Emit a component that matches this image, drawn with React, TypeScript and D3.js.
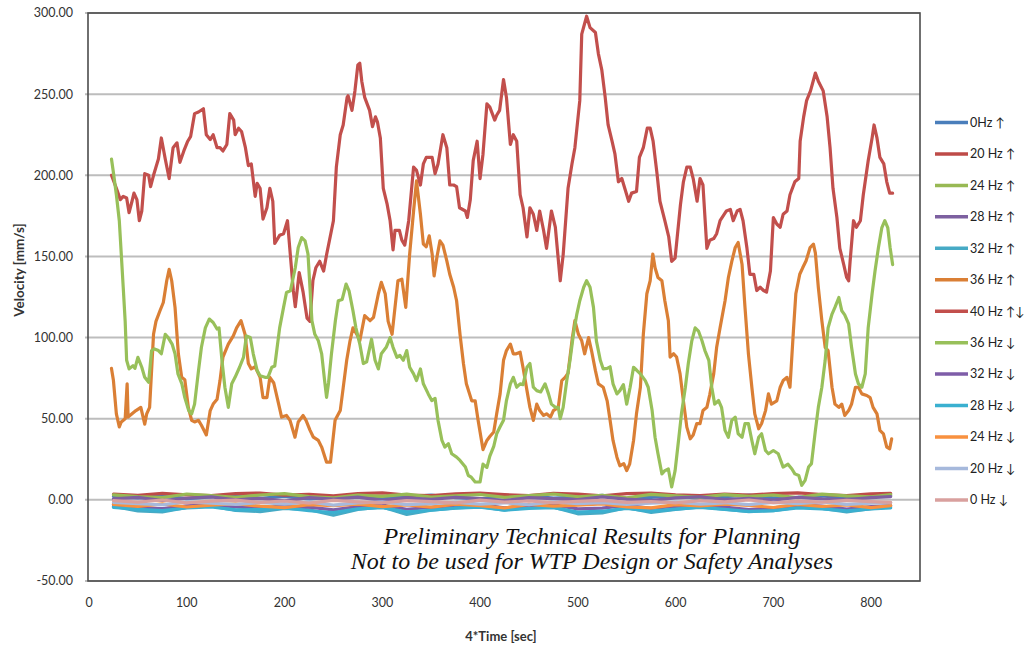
import React from "react";
import * as d3 from "d3";

// ---- data -----------------------------------------------------------------
type Pt = [number, number];

// 40 Hz up/down
const hz40Both: Pt[] = [[23,200],[28,192],[32,185],[35,187],[38.5,186],[41,177],[44,184],[46,189],[49,185],[51.5,172],[54,178],[57,201],[61,200],[63,193],[66,200],[71,210],[74,223],[78,210],[82,198],[86,217],[90,220],[93,208],[97,215],[101,221],[104,224],[108,238],[112,239],[117,241],[120,225],[124,222],[127,225],[131,217],[134,217],[137,215],[141,219],[144,238],[148,234],[149.5,225],[153,229],[156,227],[160,217],[163,206],[166,207],[170,187],[172,195],[175,192],[178,173],[182,180],[185,192],[188,184],[190,158],[195,163],[199,164],[203,172],[209,129],[211,119],[215,140],[219,128],[223,112],[226,110],[229,135],[232,143],[236,147],[240,141],[243,151],[250,172],[253,205],[257,225],[260,231],[264,248],[265,249],[269,240],[272,252],[275,268],[277,269],[279,258],[282,248],[287,240],[290,230],[293,236],[295,233],[298,223],[301,192],[305,182],[308,172],[311,154],[313,166],[317.5,166],[320,160],[323,157],[327,172],[332,205],[335,203],[339,194],[342,207],[345,211],[351,211],[354,201],[357,207],[362,225],[366,217],[369,194],[373,194],[376,193],[379,180],[385,178],[387,174],[390,185],[393,209],[397,221],[400,198],[403,213],[407,244],[410,242],[415,234],[417,237],[420,240],[424,259],[427,248],[431,219],[434,225],[437.5,221],[441,188],[444,180],[448,162],[451,180],[454.5,176],[458,166],[461,178],[465,166],[468,155],[473,178],[477,168],[482,135],[485,151],[490,192],[494,207],[497,217],[502,246],[504,287],[509,298],[512.5,291],[518,288],[521,275],[524.5,265],[528,248],[531,231],[535,221],[538,213],[541.5,196],[545,198],[548,192],[552,184],[555,189],[560,190],[563,211],[567,217],[571,229],[574,229],[577,221],[581,201],[584,184],[589,172],[593,162],[596,147],[599.5,149],[605,182],[608,196],[611.5,205],[615,205],[618,198],[622,184],[625,198],[628,194],[632,155],[635,160],[639,161],[642,164],[645.5,172],[652,178],[656,179],[659,172],[663,178],[666,179],[669,172],[673,155],[676,139],[680,139],[683,129],[686.5,131],[690,129],[693,128],[697,141],[700,174],[703.5,170],[707,168],[710,176],[714,178],[717,188],[722,196],[726,198],[727.4,221],[731,236],[734,246],[738,252],[743,263],[746,258],[751,252],[755,236],[758,217],[761,192],[765,174],[768,155],[772,145],[775,137],[777,135],[778.5,147],[782,172],[785,168],[789,172],[792,188],[797,209],[801,223],[803,231],[806,223],[809,211],[813,207],[816,196],[819,189],[822,189]];

// 36 Hz up
const hz36Up: Pt[] = [[23,81],[25,73.5],[28,53],[31,45],[33,48],[37,50],[39,71.5],[40,51],[44,53],[48,55],[53,57],[57,46.6],[59,53],[62,57],[66,102],[68.5,110],[72.6,116.5],[76,121.6],[79.5,135],[82,142],[84.6,135],[88,118.6],[91.4,90],[94.8,75.5],[98,74],[101.6,57],[105,49],[108,48],[112,49],[115,46],[120,40],[124,55],[127,59],[131,62],[134,73.5],[137,88],[142.5,96],[147.6,101],[151,106],[155.5,110.4],[159.6,102],[163,84],[166,80.7],[170,82],[175,75.5],[178,63],[182,63],[185,75.5],[189,72],[194,59],[197,51],[202,52],[205.6,49],[210.7,38.6],[214,48],[219,52],[222,49],[226,43],[229.5,38.6],[234.6,36.6],[238,32.5],[243,23.2],[247,23.2],[251.7,49],[257,55],[260,69],[263.6,86],[267,98],[270,106],[274,102],[277,98],[282,113.5],[287.5,110.4],[291,112.4],[296,127],[299,134],[303,127],[306,110],[310,102],[313,118.6],[316,135],[320,136],[324,118.6],[328,151.5],[332,178],[335,196.5],[339,176],[342,157.6],[345,156],[348,162.7],[351,151.5],[353,138],[356,150],[359,159.6],[362,157],[366,147.3],[369,139],[373,131],[376,122.7],[379.5,102],[383,84],[386,71.5],[391.5,61],[395,61],[398,49],[403,31],[407,36.6],[410,39],[414,41.8],[417,53],[420.5,65.3],[424,86],[427,92],[431,96],[434,90],[437,90],[441,91],[444,81.4],[448,67.3],[451,57],[454.5,49],[458,59],[461,55],[465,52],[468,53],[472,51],[475,55],[480,57],[483.6,73.5],[487,75.5],[490,78],[494,98],[497,110.4],[500.6,102],[504,98],[507,90],[511,100],[514,92],[518,79.6],[521,71.5],[526,69.4],[530,61],[533,49],[536,36.6],[540,26.3],[543,21],[547,22.3],[550,18],[553,22],[557,36.6],[560,53],[564,69.4],[567,102],[570.6,127],[574,135],[576.7,151.5],[579,143],[582,137],[586,135],[589,122.7],[592.6,110.4],[594.4,88],[598,90],[601,88],[604.6,77.6],[608,61],[611.5,44.8],[615,37.6],[618,40],[621.7,47],[625,47],[628,55],[632,57],[635,65],[639,77.6],[642,94],[645.5,106],[650.6,122.7],[654,137],[657.5,147],[661,155.5],[664,158.6],[668,145],[671,118.6],[674.5,90],[678,69.4],[681,53],[685,43.8],[688,47],[692,55],[695,65.3],[698,59],[703.5,61],[707,69.4],[710,73.5],[714,75.5],[717,69.4],[720.5,104],[723,127],[727,139],[730,143],[733.5,147.3],[737.6,155.5],[741,157.6],[743,152],[746,131],[749.6,110.4],[753,94],[756,92],[760,69.4],[763,59],[767,57],[770,59],[773,52],[777,55],[780,59],[784,69.4],[787,69.4],[790.5,65.3],[795.6,64.3],[799,63],[802,57],[806,53],[809,42.8],[812.6,40.7],[816,32.5],[819,31.5],[821,37.6]];

// 36 Hz down
const hz36Down: Pt[] = [[23,210],[25,201.6],[28,188],[31,172],[33,151.5],[35,131],[37,110],[38.5,86],[41,80.7],[45,82.7],[47,81],[50,87.8],[54,81.7],[57,75.5],[61,72.5],[64,92],[67,93],[71,92],[74,90],[78,102],[81,100],[85,96],[88,90],[91,77.6],[95,71.5],[98,63],[102,55],[105,53],[108,59],[112,79.6],[115,94],[119,106],[123,111.4],[127,109.3],[131,105.3],[133,106],[136,86],[139,69.4],[142.5,57],[146,71.5],[149.4,75.5],[154,81.7],[158,87.8],[161,101],[165,100],[168,90],[172,79.6],[175,76.5],[180,75.5],[183,75.5],[187,81.7],[190,82.5],[195,106],[199,118.6],[202,127.8],[206,128.8],[211,143],[214,155.5],[217.6,161.6],[221,159.6],[224,151.5],[228,110.4],[231,102],[234.6,98],[238,90],[241,73.5],[243,63.2],[245,72],[248,90],[252,110.4],[255,122.7],[259,123.5],[263,133],[266,128.8],[270,116.5],[273,106],[277,96],[280.6,84],[284,85],[289,99],[292.6,86],[296,80.7],[299,90],[304,94],[308,100],[311,94],[315,87.8],[318,89],[321.5,86],[325,92],[328,81.7],[332,77.6],[335,73.5],[339,80.7],[342,71.5],[347,65.3],[350.6,61.2],[354,62.5],[357,49],[361,36.6],[364,32.5],[367.6,34.6],[371,28.4],[376,26.3],[379.5,24.3],[385,20.2],[388,15],[391,14],[395,11],[400,11],[403,22],[407,20],[410,27],[414,33],[417,40.7],[420.5,45],[424,49],[427,61.2],[431,71.5],[434,75.5],[437.5,69.4],[441,71.5],[444,71],[448,81.7],[451,84],[454.5,69.4],[458,67.3],[462,66.5],[466.5,71.5],[470,65.3],[473,59],[477,57],[480,57],[482,50],[485,57],[488.7,73.5],[492,86],[495.5,102],[499,114.5],[502,122.7],[506,131],[509,135],[512.5,131],[516,118.6],[519,98],[523,86],[526,80.7],[530,81],[533,82],[536,71.5],[540,65.3],[543,67.3],[546.6,71],[550,59],[553.5,69.4],[557,81.7],[560,80],[564,77.6],[569,73.5],[572,69.4],[576,55],[579,38.6],[582,28.4],[586,16],[589,18],[592.6,19],[596,8],[599.5,18],[603,36.6],[606,53],[610,69.4],[613,84],[616.6,98],[620,106],[623.4,104],[627,98],[630,92],[634,86],[637,69.4],[640,59],[644,61.2],[647,57],[650.6,42.8],[654,38.6],[657.5,49],[661,51],[664,40.7],[668,38.6],[671,47],[674.5,47],[678,36.6],[681,28.4],[685,38.6],[688,40.7],[692,30.4],[695,28.4],[700,30.4],[705,28.4],[710,20.2],[715,22],[719,19],[722,16],[726,15],[729,9],[732.5,12],[736,20.2],[739,22.3],[743,42.8],[746,57],[749.6,69.4],[753,86],[756,106],[760,114.5],[763,118.6],[767,124.7],[770,116.5],[773,114],[777,108.4],[780,94],[784,77.6],[787,71.5],[790.5,69.4],[794,77.6],[797,106],[801,127],[804,141],[807.5,155.5],[811,167.8],[814,172],[817,167.8],[819.4,155.5],[822,145]];

// sample times shared by the low-velocity runs
const bandTimes: number[] = [25,50,75,100,125,150,175,200,225,250,275,300,325,350,375,400,425,450,475,500,525,550,575,600,625,650,675,700,725,750,775,800,820];

const hz0Up: number[] = [2.1,1.2,2.5,0.8,1.8,2.9,1.0,2.2,0.6,1.6,2.7,0.9,1.9,3.0,1.3,0.7,2.1,2.4,1.1,1.7,2.8,0.9,1.5,2.6,0.7,1.9,2.9,1.2,1.6,2.4,1.0,2.1,2.6];
const hz20Up: number[] = [3.6,2.8,4.0,3.1,2.6,3.8,4.2,2.9,3.4,2.5,3.9,4.3,3.0,2.7,3.7,4.1,3.2,2.6,4.0,3.5,2.5,3.8,4.2,3.1,2.7,3.6,2.9,3.9,4.3,3.3,2.6,3.7,4.0];
const hz24Up: number[] = [3.1,2.0,1.4,3.6,2.7,1.6,3.0,3.8,2.0,1.3,2.9,2.2,3.5,1.7,2.5,3.3,1.5,2.6,3.6,1.9,2.8,1.3,3.4,2.4,1.6,3.2,2.1,3.0,1.4,3.5,2.5,1.9,3.3];
const hz28Up: number[] = [0.6,1.5,-0.4,1.0,1.8,0.0,0.9,-0.6,1.4,0.5,1.7,-0.3,1.2,0.3,1.6,0.7,-0.5,1.4,0.8,0.1,1.8,0.5,-0.4,1.2,1.9,0.2,1.0,-0.2,1.6,0.6,0.1,1.4,2.0];
const hz32Up: number[] = [-4.0,-6.8,-7.4,-4.6,-3.8,-6.5,-7.2,-5.2,-6.1,-9.4,-5.9,-4.4,-9.0,-6.4,-4.9,-4.2,-6.3,-4.7,-4.5,-8.6,-8.0,-4.8,-7.7,-5.9,-4.3,-5.7,-7.3,-6.6,-4.5,-5.2,-7.4,-5.4,-4.4];
const hz32Down: number[] = [-3.0,-4.8,-5.4,-3.7,-2.8,-4.3,-5.3,-3.5,-4.5,-6.2,-4.1,-3.2,-5.8,-4.6,-3.3,-2.9,-4.9,-3.6,-3.1,-5.6,-5.1,-3.4,-5.2,-4.1,-3.0,-4.4,-6.0,-4.9,-3.2,-3.9,-5.7,-4.1,-3.5];
const hz28Down: number[] = [-4.6,-5.8,-6.6,-5.0,-4.4,-6.2,-5.9,-4.9,-6.7,-7.8,-5.6,-4.8,-7.4,-6.4,-5.1,-4.5,-6.3,-5.3,-4.8,-7.5,-7.0,-5.2,-6.9,-5.7,-4.6,-5.9,-7.1,-6.6,-4.9,-5.5,-6.8,-5.6,-5.0];
const hz24Down: number[] = [-2.8,-4.0,-2.5,-4.4,-3.3,-2.4,-3.9,-4.8,-2.9,-3.6,-2.6,-4.2,-3.1,-4.5,-2.7,-3.5,-5.0,-2.8,-3.9,-3.3,-2.5,-4.4,-4.9,-2.9,-3.8,-2.6,-3.4,-4.7,-2.8,-4.1,-3.1,-4.8,-3.6];
const hz20Down: number[] = [-1.5,-2.4,-3.0,-1.2,-2.1,-2.8,-1.6,-2.6,-1.3,-3.2,-1.9,-1.2,-2.9,-2.3,-1.5,-2.6,-1.8,-3.0,-1.2,-2.4,-1.7,-2.8,-2.1,-1.4,-2.6,-1.8,-2.9,-1.5,-2.3,-1.2,-2.8,-2.0,-1.7];
const hz0Down: number[] = [-0.5,-1.4,-0.1,-1.9,-0.8,-0.2,-1.6,-0.7,-2.0,-0.3,-1.2,-1.8,-0.5,-1.1,-1.9,-0.2,-1.4,-0.7,-1.7,-0.9,-0.3,-1.6,-1.0,-1.9,-0.5,-1.3,-0.1,-1.8,-0.8,-1.4,-0.3,-1.1,-1.6];

const yTicks: number[] = [-50, 0, 50, 100, 150, 200, 250, 300];
const xTicks: number[] = [0, 100, 200, 300, 400, 500, 600, 700, 800];

const zip = (vals: number[]): Pt[] => vals.map((v, i) => [bandTimes[i], v]);

interface Series { name: string; color: string; points: Pt[]; }

const series: Series[] = [
  { name: "0Hz \u2191", color: "#4A7EBB", points: zip(hz0Up) },
  { name: "20 Hz \u2191", color: "#BE4B48", points: zip(hz20Up) },
  { name: "24 Hz \u2191", color: "#98B954", points: zip(hz24Up) },
  { name: "28 Hz \u2191", color: "#7D60A0", points: zip(hz28Up) },
  { name: "32 Hz \u2191", color: "#46AAC5", points: zip(hz32Up) },
  { name: "36 Hz \u2191", color: "#DA7F35", points: hz36Up },
  { name: "40 Hz \u2191\u2193", color: "#C24F4C", points: hz40Both },
  { name: "36 Hz \u2193", color: "#98C05A", points: hz36Down },
  { name: "32 Hz \u2193", color: "#7E5DA8", points: zip(hz32Down) },
  { name: "28 Hz \u2193", color: "#3AB0D0", points: zip(hz28Down) },
  { name: "24 Hz \u2193", color: "#F8913F", points: zip(hz24Down) },
  { name: "20 Hz \u2193", color: "#A6B9DC", points: zip(hz20Down) },
  { name: "0 Hz \u2193", color: "#D9A09E", points: zip(hz0Down) },
];

// ---- layout -----------------------------------------------------------------
const W = 1035;
const H = 648;
const plot = { left: 89, right: 920, top: 13, bottom: 581 };

const x = d3.scaleLinear().domain([0, 850]).range([plot.left, plot.right]);
const y = d3.scaleLinear().domain([-50, 300]).range([plot.bottom, plot.top]);

const line = d3
  .line<Pt>()
  .x((d) => x(d[0]))
  .y((d) => y(d[1]));

const axisFont = "Lato, 'Open Sans', 'DejaVu Sans', sans-serif";

export default function App() {
  return (
    <svg
      width={W}
      height={H}
      viewBox={`0 0 ${W} ${H}`}
      style={{ position: "absolute", left: 0, top: 0, background: "#fff" }}
    >
      <rect x={0} y={0} width={W} height={H} fill="#fff" />

      {/* horizontal gridlines */}
      {yTicks.map((t) => (
        <line
          key={`g${t}`}
          x1={plot.left - 4}
          x2={plot.right}
          y1={y(t)}
          y2={y(t)}
          stroke="#BDBDBD"
          strokeWidth={2}
        />
      ))}

      {/* y tick labels */}
      {yTicks.map((t) => (
        <text
          key={`yl${t}`}
          x={73}
          y={y(t)}
          dy="0.35em"
          textAnchor="end"
          fontFamily={axisFont}
          fontSize={12.5}
          fill="#333"
        >
          {t.toFixed(2)}
        </text>
      ))}

      {/* x tick labels */}
      {xTicks.map((t) => (
        <text
          key={`xl${t}`}
          x={x(t)}
          y={603}
          dy="0.35em"
          textAnchor="middle"
          fontFamily={axisFont}
          fontSize={12.5}
          fill="#333"
        >
          {t}
        </text>
      ))}

      {/* data lines */}
      <g fill="none" strokeLinejoin="round" strokeLinecap="round">
        {series.map((s) => (
          <path key={s.name} d={line(s.points) ?? ""} stroke={s.color} strokeWidth={3.2} />
        ))}
      </g>

      {/* plot frame */}
      <rect
        x={plot.left - 1}
        y={plot.top}
        width={plot.right - plot.left + 1}
        height={plot.bottom - plot.top}
        fill="none"
        stroke="#4D4D4D"
        strokeWidth={1.6}
      />

      {/* axis titles */}
      <text
        transform={`translate(19,270) rotate(-90)`}
        dy="0.35em"
        textAnchor="middle"
        fontFamily={axisFont}
        fontWeight="bold"
        fontSize={13.5}
        fill="#333"
      >
        Velocity  [mm/s]
      </text>
      <text
        x={501}
        y={636}
        dy="0.35em"
        textAnchor="middle"
        fontFamily={axisFont}
        fontWeight="bold"
        fontSize={13}
        fill="#333"
      >
        4*Time [sec]
      </text>

      {/* notice */}
      <g fontFamily="'Liberation Serif', 'DejaVu Serif', serif" fontStyle="italic" fontSize={24} fill="#111" textAnchor="middle">
        <text x={592} y={544}>Preliminary Technical Results for Planning</text>
        <text x={592} y={569}>Not to be used for WTP Design or Safety Analyses</text>
      </g>

      {/* legend */}
      {series.map((s, i) => {
        const ly = 122.5 + i * 31.45;
        return (
          <g key={`lg${s.name}`}>
            <line x1={935} x2={968} y1={ly} y2={ly} stroke={s.color} strokeWidth={3.5} />
            <text
              x={970}
              y={ly}
              dy="0.35em"
              fontFamily={axisFont}
              fontSize={12.5}
              fill="#222"
            >
              {s.name}
            </text>
          </g>
        );
      })}
    </svg>
  );
}
